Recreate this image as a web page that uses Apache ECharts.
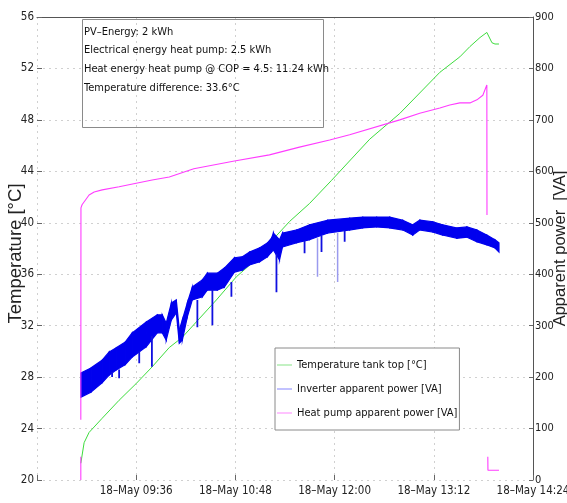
<!DOCTYPE html>
<html>
<head>
<meta charset="utf-8">
<script src="https://cdn.jsdelivr.net/npm/echarts@6/dist/echarts.min.js"></script>
<style>
html,body{margin:0;padding:0;background:#fff;}
#chart{width:567px;height:503px;}
</style>
</head>
<body>
<div id="chart"></div>
<script>
// Time values are minutes since midnight on 18 May
const xTicks = [504, 576, 648, 720, 792, 864];          // 08:24 ... 14:24 (72 min steps)
const tempTicks = [20, 24, 28, 32, 36, 40, 44, 48, 52, 56];
const powerTicks = [0, 100, 200, 300, 400, 500, 600, 700, 800, 900];

const seriesNames = ['Temperature tank top [°C]', 'Inverter apparent power [VA]', 'Heat pump apparent power [VA]'];

// Temperature tank top [°C]
const tempT = [535.8, 538.2, 541.8, 551.3, 563.6, 576, 587.6, 600, 609.5, 634.2, 648.7, 658.2, 672.7, 687.3, 701.8, 717.8, 745.5, 767.3, 796.4, 810.9, 818.2, 825.5, 830.5, 834.2, 836.4, 839.3];
const tempV = [21.3, 22.9, 23.7, 24.8, 26.2, 27.5, 28.8, 30.3, 31.1, 34.0, 35.8, 36.7, 38.4, 40.1, 41.5, 43.3, 46.5, 48.5, 51.7, 52.9, 53.7, 54.4, 54.8, 54.0, 53.9, 53.9];

// Inverter apparent power [VA]: upper and lower envelope of the noisy band
const invT  = [535.8, 543.3, 551.3, 556.4, 561.5, 568, 573.1, 583.3, 591.3, 594.9, 597.8, 601.5, 605.1, 607.3, 609.5, 613.1, 616.7, 624, 627.6, 634.9, 640, 647.3, 653.1, 658.2, 665.5, 671.3, 674.2, 675.6, 680, 682.2, 692.4, 701.8, 714.9, 730.9, 740.4, 750.5, 760, 769.5, 776.7, 781.8, 791.3, 798.5, 808.7, 816, 823.3, 830.5, 836.4, 839.3];
const invHi = [208, 218, 233, 249, 257, 268, 286, 307, 321, 321, 305, 344, 350, 292, 311, 344, 375, 389, 402, 402, 412, 432, 434, 443, 451, 461, 470, 480, 467, 480, 486, 496, 505, 509, 511, 511, 511, 505, 496, 505, 502, 496, 490, 492, 486, 476, 467, 461];
const invLo = [161, 171, 189, 204, 214, 224, 239, 259, 286, 286, 272, 311, 325, 266, 272, 317, 350, 356, 369, 369, 375, 404, 408, 418, 424, 434, 443, 447, 428, 453, 461, 467, 480, 486, 490, 492, 490, 486, 476, 486, 482, 476, 470, 472, 463, 457, 451, 443];
// short downward dips of the inverter power
const dipT    = [558.5, 563.6, 578.2, 587.4, 620.4, 631.3, 645.1, 677.8, 698.2, 710.5, 727.3];
const dipFrom = [210, 215, 250, 280, 350, 370, 385, 440, 465, 475, 485];
const dipTo   = [200, 198, 227, 220, 297, 301, 356, 365, 441, 443, 463];
const faintDipT    = [707.6, 722.2];
const faintDipFrom = [470, 480];
const faintDipTo   = [395, 385];

// Heat pump apparent power [VA] (null = gap in the record)
const heatT = [535.8, 535.8, 535.8, 535.8, 535.9, 536.7, 541.8, 545.5, 551.3, 563.6, 576, 587.6, 600, 617.8, 647.3, 672.7, 694.5, 716.4, 730.9, 767.3, 781.8, 796.4, 803.6, 810.9, 818.2, 823.3, 827.6, 830.5, 830.6, 830.6, 831.2, 831.3, 839.3];
const heatV = [0, 45, null, 117, 529, 535, 554, 560, 564, 570, 577, 583, 589, 605, 620, 632, 647, 661, 671, 700, 713, 723, 729, 733, 733, 739, 748, 768, 515, null, 45, 19, 19];

const infoLines = [
  'PV–Energy: 2 kWh',
  'Electrical energy heat pump: 2.5 kWh',
  'Heat energy heat pump @ COP = 4.5: 11.24 kWh',
  'Temperature difference: 33.6°C'
];

const NARROW = "'DejaVu Sans Condensed', 'Liberation Sans Narrow', 'Liberation Sans', sans-serif";
const SANS = "'Liberation Sans', Arial, Helvetica, sans-serif";
const BLUE = '#0000ee';
const pad = n => (n < 10 ? '0' : '') + n;

const pairs = (t, v) => t.map((x, i) => [x, v[i] === null ? '-' : v[i]]);
const spikes = (t, a, b) => {
  const out = [];
  t.forEach((x, i) => { out.push([x, a[i]], [x, b[i]], [x, '-']); });
  return out;
};
// band segments between consecutive envelope readings
const bandData = invT.slice(0, -1).map((t, i) => [t, invHi[i], invLo[i], invT[i + 1], invHi[i + 1], invLo[i + 1]]);

const chart = echarts.init(document.getElementById('chart'), null, {renderer: 'canvas'});

const infoGraphics = [{
  type: 'rect', shape: {x: 82.5, y: 19.5, width: 241, height: 108},
  style: {fill: 'rgba(255,255,255,0)', stroke: '#8a8a8a', lineWidth: 1}, z: 100
}];
infoLines.forEach((s, i) => {
  infoGraphics.push({
    type: 'text', x: 84, y: 32 + i * 18.6,
    style: {text: s, fontFamily: NARROW, fontSize: 11, fill: '#111', verticalAlign: 'middle', align: 'left'},
    z: 101
  });
});

const option = {
  animation: false,
  backgroundColor: '#fff',
  grid: {left: 37, right: 34, top: 17, bottom: 23, containLabel: false, outerBoundsMode: 'none'},
  legend: {
    orient: 'vertical', left: 275, top: 348,
    data: [
      {name: seriesNames[0], itemStyle: {color: '#9be89b'}},
      {name: seriesNames[1], itemStyle: {color: '#9a9aff'}},
      {name: seriesNames[2], itemStyle: {color: '#ff9cff'}}
    ],
    icon: 'rect', itemWidth: 15, itemHeight: 1.2, itemGap: 10,
    backgroundColor: '#fff', borderColor: '#8a8a8a', borderWidth: 1,
    padding: [10, 2, 10, 2],
    textStyle: {fontFamily: NARROW, fontSize: 11, lineHeight: 14, color: '#111'},
    selectedMode: false
  },
  xAxis: [{
    type: 'value', min: xTicks[0], max: xTicks[xTicks.length - 1], interval: 72,
    axisLine: {show: false},
    axisTick: {show: true, inside: true, length: 5, lineStyle: {color: '#666'}},
    splitLine: {show: true, lineStyle: {color: '#d0d0d0', type: [2, 4], width: 1}},
    axisLabel: {
      fontFamily: NARROW, fontSize: 11.5, color: '#222', margin: 5,
      formatter: v => v === xTicks[0] ? '' : '18–May ' + pad(Math.floor(v / 60)) + ':' + pad(v % 60)
    }
  }, {
    type: 'value', position: 'top', min: xTicks[0], max: xTicks[xTicks.length - 1], interval: 72,
    axisLine: {show: true, lineStyle: {color: '#555', width: 1}},
    axisTick: {show: false}, axisLabel: {show: false}, splitLine: {show: false}
  }],
  yAxis: [{
    type: 'value', position: 'left', min: tempTicks[0], max: tempTicks[tempTicks.length - 1], interval: 4,
    name: 'Temperature [°C]', nameLocation: 'middle', nameGap: 12, nameRotate: 90, nameMoveOverlap: false,
    nameTextStyle: {fontFamily: SANS, fontSize: 18.5, color: '#222', padding: [0, 10, 0, 0]},
    axisLine: {show: false},
    axisTick: {show: true, inside: true, length: 5, lineStyle: {color: '#666'}},
    axisLabel: {fontFamily: NARROW, fontSize: 11.5, color: '#222', margin: 3},
    splitLine: {show: true, lineStyle: {color: '#d0d0d0', type: [2, 4], width: 1}}
  }, {
    type: 'value', position: 'right', min: powerTicks[0], max: powerTicks[powerTicks.length - 1], interval: 100,
    name: 'Apparent power  [VA]', nameLocation: 'middle', nameGap: 19, nameRotate: 90, nameMoveOverlap: false,
    nameTextStyle: {fontFamily: SANS, fontSize: 16.5, color: '#222'},
    axisLine: {show: true, lineStyle: {color: '#555', width: 1}},
    axisTick: {show: true, inside: true, length: 4, lineStyle: {color: '#666'}},
    axisLabel: {fontFamily: NARROW, fontSize: 11, color: '#222', margin: 2},
    splitLine: {show: false}
  }],
  series: [
    {
      name: seriesNames[0], type: 'line', xAxisIndex: 0, yAxisIndex: 0,
      data: pairs(tempT, tempV), showSymbol: false, symbol: 'none',
      lineStyle: {color: '#3ddc3d', width: 1}, itemStyle: {color: '#3ddc3d'}, z: 2
    },
    {
      name: seriesNames[1], type: 'custom', xAxisIndex: 0, yAxisIndex: 1,
      data: bandData, encode: {x: [0, 3], y: [1, 2, 4, 5]},
      itemStyle: {color: BLUE}, z: 3,
      renderItem: (params, api) => {
        const a = api.coord([api.value(0), api.value(1)]);
        const b = api.coord([api.value(3), api.value(4)]);
        const c = api.coord([api.value(3), api.value(5)]);
        const d = api.coord([api.value(0), api.value(2)]);
        return {type: 'polygon', shape: {points: [a, b, c, d]},
          style: {fill: BLUE, stroke: BLUE, lineWidth: 1.2}};
      }
    },
    {
      name: '_invDips', type: 'line', xAxisIndex: 0, yAxisIndex: 1,
      data: spikes(dipT, dipFrom, dipTo), showSymbol: false, symbol: 'none', connectNulls: false,
      lineStyle: {color: '#1010e0', width: 1.8}, z: 3
    },
    {
      name: '_invFaint', type: 'line', xAxisIndex: 0, yAxisIndex: 1,
      data: spikes(faintDipT, faintDipFrom, faintDipTo), showSymbol: false, symbol: 'none', connectNulls: false,
      lineStyle: {color: '#9a9aee', width: 1.5}, z: 3
    },
    {
      name: seriesNames[2], type: 'line', xAxisIndex: 0, yAxisIndex: 1,
      data: pairs(heatT, heatV), showSymbol: false, symbol: 'none', connectNulls: false,
      lineStyle: {color: '#ff3cff', width: 1.1}, itemStyle: {color: '#ff3cff'}, z: 4
    }
  ],
  graphic: infoGraphics
};

chart.setOption(option);
</script>
</body>
</html>
